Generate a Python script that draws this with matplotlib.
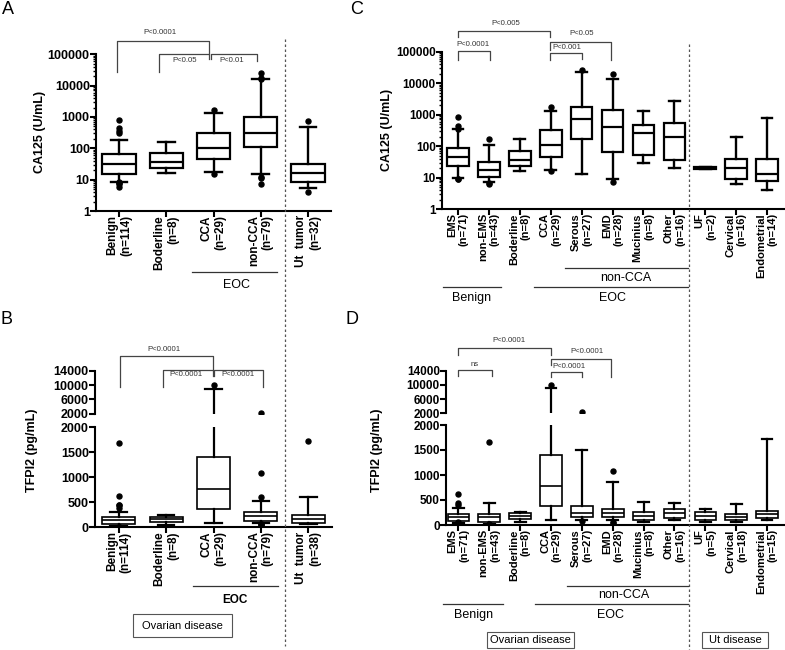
import matplotlib
matplotlib.use('Agg')
import matplotlib.pyplot as plt
import matplotlib.transforms as mtransforms
from matplotlib.lines import Line2D
from matplotlib.patches import Rectangle
from matplotlib.ticker import LogLocator, NullFormatter

plt.rcParams['font.family'] = ['Liberation Sans', 'DejaVu Sans']

# ---------------- data ----------------
# Panel A : CA125 (U/mL)
A_labels = ["Benign\n(n=114)", "Boderline\n(n=8)", "CCA\n(n=29)", "non-CCA\n(n=79)", "Ut  tumor\n(n=32)"]
A_whislo = [8.4, 16, 17.6, 15, 5.3]
A_q1 = [15, 23.6, 44.6, 108, 8.6]
A_med = [31, 37.5, 105, 300, 16.7]
A_q3 = [66, 69, 316, 1030, 31]
A_whishi = [185, 163, 1380, 15800, 490]
A_fliers = [[800, 436, 365, 300, 8.2, 7.8, 7.2, 6.0], [], [1670, 15], [24700, 17000, 16000, 12.5, 11, 7.1], [760, 4]]

# Panel B : TFPI2 (pg/mL)
B_labels = ["Benign\n(n=114)", "Boderline\n(n=8)", "CCA\n(n=29)", "non-CCA\n(n=79)", "Ut  tumor\n(n=38)"]
B_whislo = [25, 53, 93, 90, 70]
B_q1 = [66, 100, 360, 126, 80]
B_med = [146, 160, 766, 226, 160]
B_q3 = [200, 200, 1400, 300, 246]
B_whishi = [313, 253, 9000, 533, 600]
B_fliers = [[1680, 626, 446, 440, 380, 15, 10, 5], [], [10000], [2300, 1080, 613, 75, 65, 55], [1733]]

# Panel C : CA125 (U/mL), subgroups
C_labels = ["EMS\n(n=71)", "non-EMS\n(n=43)", "Boderline\n(n=8)", "CCA\n(n=29)", "Serous\n(n=27)", "EMD\n(n=28)",
            "Mucinius\n(n=8)", "Other\n(n=16)", "UF\n(n=2)", "Cervical\n(n=16)", "Endometrial\n(n=14)"]
C_whislo = [9.4, 7, 16.5, 17.4, 12.9, 9, 28, 20, 19, 6.2, 4]
C_q1 = [24, 10.6, 24, 45, 163, 65, 51, 36, 19, 9.2, 7.8]
C_med = [45, 18, 36, 105, 707, 415, 252, 198, 20, 19.6, 13]
C_q3 = [89, 32, 71, 322, 1700, 1400, 480, 527, 21, 38, 38]
C_whishi = [340, 108, 172, 1330, 23000, 13200, 1330, 2640, 21, 190, 760]
C_fliers = [[815, 435, 360, 9.2, 9.0], [172, 6.5, 6.2], [], [1780, 15.7], [26000], [19000, 7], [], [], [], [], []]

# Panel D : TFPI2 (pg/mL), subgroups
D_labels = ["EMS\n(n=71)", "non-EMS\n(n=43)", "Boderline\n(n=8)", "CCA\n(n=29)", "Serous\n(n=27)", "EMD\n(n=28)",
            "Mucinius\n(n=8)", "Other\n(n=16)", "UF\n(n=5)", "Cervical\n(n=18)", "Endometrial\n(n=15)"]
D_whislo = [40, 30, 66, 100, 100, 100, 60, 100, 67, 67, 100]
D_q1 = [87, 67, 113, 387, 167, 153, 100, 147, 100, 100, 133]
D_med = [153, 153, 180, 780, 233, 233, 180, 233, 180, 153, 213]
D_q3 = [227, 213, 233, 1400, 380, 313, 267, 313, 253, 220, 280]
D_whishi = [333, 433, 253, 9200, 1500, 867, 467, 447, 313, 413, 1720]
D_fliers = [[620, 447, 400, 60, 50, 30], [1653, 20, 10, 5], [], [10000], [2300, 80], [1080, 67, 50], [], [], [], [], []]

# tick labels
log_ticks = [1, 10, 100, 1000, 10000, 100000]
log_ticklabels = ["1", "10", "100", "1000", "10000", "100000"]
lo_ticks = [0, 500, 1000, 1500, 2000]
lo_ticklabels = ["0", "500", "1000", "1500", "2000"]
hi_ticks = [2000, 6000, 10000, 14000]
hi_ticklabels = ["2000", "6000", "10000", "14000"]
break_value = 2000

# ---------------- figure ----------------
W, H = 785, 650
fig = plt.figure(figsize=(W / 100, H / 100), dpi=100)


def fx(p):
    return p / W


def fy(p):
    return 1 - p / H


def rect(x0, x1, ytop, ybot):
    return [fx(x0), fy(ybot), (x1 - x0) / W, (ybot - ytop) / H]


def stats_from(whislo, q1, med, q3, whishi, fliers):
    return [dict(whislo=a, q1=b, med=c, q3=d, whishi=e, fliers=f)
            for a, b, c, d, e, f in zip(whislo, q1, med, q3, whishi, fliers)]


def upper_part(stats, cut):
    """Keep only the groups (and fliers) that reach above the axis break."""
    pos, out = [], []
    for i, s in enumerate(stats, start=1):
        fl = [v for v in s['fliers'] if v >= cut]
        if s['whishi'] > cut or fl:
            d = dict(s)
            d['fliers'] = fl
            pos.append(i)
            out.append(d)
    return out, pos


def draw_boxes(ax, stats, positions=None, boxlw=1.6, wlw=1.7):
    if positions is None:
        positions = list(range(1, len(stats) + 1))
    ax.bxp(stats, positions=positions, widths=0.7, capwidths=0.35, patch_artist=True, manage_ticks=False,
           boxprops=dict(facecolor='white', edgecolor='black', linewidth=boxlw),
           medianprops=dict(color='black', linewidth=boxlw),
           whiskerprops=dict(color='black', linewidth=wlw),
           capprops=dict(color='black', linewidth=wlw),
           flierprops=dict(marker='o', markerfacecolor='black', markeredgecolor='black', markersize=3.6))


def style(ax, bottom=True):
    ax.set_facecolor('none')
    for s in ['top', 'right']:
        ax.spines[s].set_visible(False)
    ax.spines['left'].set_linewidth(1.5)
    ax.spines['bottom'].set_linewidth(1.5)
    if not bottom:
        ax.spines['bottom'].set_visible(False)
        ax.tick_params(axis='x', which='both', bottom=False, labelbottom=False)
    ax.tick_params(axis='both', which='major', direction='out', length=4, width=1.5, pad=0.5)
    ax.tick_params(axis='y', which='minor', direction='out', length=2, width=1)


def xlabels(ax, labels, fs):
    ax.set_xticks(range(1, len(labels) + 1))
    ax.set_xticklabels(labels, rotation=90, fontweight='bold', fontsize=fs, multialignment='right')
    ax.tick_params(axis='x', pad=-1)


def bracket(ax, x1, x2, ytop, yl, yr, text, tx, ty):
    tr = mtransforms.blended_transform_factory(ax.transData, ax.transAxes)
    ax.add_line(Line2D([x1, x1, x2, x2], [yl, ytop, ytop, yr], transform=tr, color='#444444',
                       lw=0.9, clip_on=False))
    ax.text(tx, ty, text, transform=tr, ha='center', va='center', fontsize=5.6, color='#333333', clip_on=False)


def fline(x0, x1, y0, y1, **kw):
    fig.add_artist(Line2D([fx(x0), fx(x1)], [fy(y0), fy(y1)], transform=fig.transFigure, **kw))


def ftext(x, y, s, **kw):
    fig.text(fx(x), fy(y), s, ha='center', va='center', **kw)


# ---- Panel A ----
axA = fig.add_axes(rect(96, 331, 54.3, 211))
draw_boxes(axA, stats_from(A_whislo, A_q1, A_med, A_q3, A_whishi, A_fliers))
axA.set_yscale('log')
axA.set_ylim(1, 100000)
axA.set_xlim(0.513, 5.487)
style(axA)
axA.yaxis.set_minor_locator(LogLocator(base=10, subs=range(2, 10), numticks=20))
axA.yaxis.set_minor_formatter(NullFormatter())
axA.set_yticks(log_ticks, log_ticklabels, fontweight='bold', fontsize=9)
xlabels(axA, A_labels, 8.5)
bracket(axA, 0.958, 2.905, 1.087, 0.889, 1.002, "P<0.0001", 1.868, 1.138)
bracket(axA, 1.853, 2.91, 1.002, 0.889, 0.968, "P<0.05", 2.397, 0.962)
bracket(axA, 2.94, 3.93, 1.002, 0.968, 0.959, "P<0.01", 3.39, 0.962)

# ---- Panel C ----
axC = fig.add_axes(rect(442, 785, 51.7, 209))
draw_boxes(axC, stats_from(C_whislo, C_q1, C_med, C_q3, C_whishi, C_fliers))
axC.set_yscale('log')
axC.set_ylim(1, 100000)
axC.set_xlim(0.48, 11.58)
style(axC)
axC.yaxis.set_minor_locator(LogLocator(base=10, subs=range(2, 10), numticks=20))
axC.yaxis.set_minor_formatter(NullFormatter())
axC.set_yticks(log_ticks, log_ticklabels, fontweight='bold', fontsize=8.5)
xlabels(axC, C_labels, 8)
bracket(axC, 1.0, 3.98, 1.134, 1.093, 1.093, "P<0.005", 2.54, 1.182)
bracket(axC, 0.99, 2.04, 1.006, 0.947, 0.947, "P<0.0001", 1.47, 1.043)
bracket(axC, 3.98, 5.95, 1.064, 1.010, 0.947, "P<0.05", 4.99, 1.113)
bracket(axC, 3.98, 5.01, 0.990, 0.947, 0.951, "P<0.001", 4.53, 1.024)

# ---- Panel B (broken axis) ----
axBlo = fig.add_axes(rect(95, 332, 427.3, 527.3))
axBhi = fig.add_axes(rect(95, 332, 370.7, 413.7))
statsB = stats_from(B_whislo, B_q1, B_med, B_q3, B_whishi, B_fliers)
draw_boxes(axBlo, statsB, boxlw=1.2, wlw=1.6)
hiB, hiB_pos = upper_part(statsB, break_value)
draw_boxes(axBhi, hiB, hiB_pos, boxlw=1.2, wlw=1.6)
for ax in (axBlo, axBhi):
    ax.set_xlim(0.5, 5.5)
axBlo.set_ylim(0, break_value)
axBhi.set_ylim(break_value, 14000)
style(axBlo)
style(axBhi, bottom=False)
axBlo.set_yticks(lo_ticks, lo_ticklabels, fontweight='bold', fontsize=9)
axBhi.set_yticks(hi_ticks, hi_ticklabels, fontweight='bold', fontsize=9)
xlabels(axBlo, B_labels, 8.5)
bracket(axBhi, 1.03, 2.99, 1.349, 0.628, 1.016, "P<0.0001", 1.96, 1.498)
bracket(axBhi, 1.93, 2.99, 1.016, 0.628, 0.884, "P<0.0001", 2.41, 0.916)
bracket(axBhi, 3.02, 4.05, 1.016, 0.884, 0.628, "P<0.0001", 3.51, 0.916)

# ---- Panel D (broken axis) ----
axDlo = fig.add_axes(rect(446, 785, 425, 525))
axDhi = fig.add_axes(rect(446, 785, 370.7, 413.3))
statsD = stats_from(D_whislo, D_q1, D_med, D_q3, D_whishi, D_fliers)
draw_boxes(axDlo, statsD, boxlw=1.2, wlw=1.6)
hiD, hiD_pos = upper_part(statsD, break_value)
draw_boxes(axDhi, hiD, hiD_pos, boxlw=1.2, wlw=1.6)
for ax in (axDlo, axDhi):
    ax.set_xlim(0.6, 11.58)
axDlo.set_ylim(0, break_value)
axDhi.set_ylim(break_value, 14000)
style(axDlo)
style(axDhi, bottom=False)
axDlo.set_yticks(lo_ticks, lo_ticklabels, fontweight='bold', fontsize=8.5)
axDhi.set_yticks(hi_ticks, hi_ticklabels, fontweight='bold', fontsize=8.5)
xlabels(axDlo, D_labels, 8)
bracket(axDhi, 1.0, 3.996, 1.526, 1.369, 1.369, "P<0.0001", 2.64, 1.72)
bracket(axDhi, 1.0, 2.08, 1.016, 0.876, 0.876, "ns", 1.52, 1.157)
bracket(axDhi, 4.0, 5.94, 1.268, 1.134, 0.845, "P<0.0001", 5.15, 1.446)
bracket(axDhi, 4.0, 5.01, 0.977, 0.845, 0.845, "P<0.0001", 4.57, 1.110)

# ---- y labels and panel letters ----
ftext(40, 131.5, "CA125 (U/mL)", rotation=90, fontweight='bold', fontsize=9)
ftext(387, 130, "CA125 (U/mL)", rotation=90, fontweight='bold', fontsize=9)
ftext(32, 450, "TFPI2 (pg/mL)", rotation=90, fontweight='bold', fontsize=9)
ftext(377, 450, "TFPI2 (pg/mL)", rotation=90, fontweight='bold', fontsize=9)
ftext(8, 10, "A", fontsize=13)
ftext(357, 10, "C", fontsize=13)
ftext(6, 320, "B", fontsize=13)
ftext(352, 320, "D", fontsize=13)

# ---- dashed separators ----
fline(285, 285, 39, 646, color='#555555', lw=0.9, ls=(0, (2, 2)))
fline(689, 689, 44, 650, color='#555555', lw=0.9, ls=(0, (2, 2)))

# ---- group annotations ----
gcol = '#333333'
# A
fline(192, 277, 271.7, 271.7, color=gcol, lw=0.9)
ftext(237, 285, "EOC", fontsize=9)
# B
fline(193, 278, 586, 586, color=gcol, lw=0.9)
ftext(235, 600, "EOC", fontsize=8.5, fontweight='bold')
fig.add_artist(Rectangle((fx(133), fy(637)), (232 - 133) / W, 23 / H, transform=fig.transFigure,
                         fill=False, edgecolor='#555555', lw=0.8))
ftext(182.5, 626, "Ovarian disease", fontsize=8)
# C
fline(565, 687.7, 268.3, 268.3, color=gcol, lw=0.9)
ftext(626, 278, "non-CCA", fontsize=9)
fline(534, 687.7, 287.3, 287.3, color=gcol, lw=0.9)
ftext(612.7, 298.3, "EOC", fontsize=9)
fline(442.7, 501, 287.3, 287.3, color=gcol, lw=0.9)
ftext(471.7, 298.3, "Benign", fontsize=9)
# D
fline(566.7, 688.3, 585.7, 585.7, color=gcol, lw=0.9)
ftext(623.3, 595, "non-CCA", fontsize=9)
fline(535, 688.3, 604.3, 604.3, color=gcol, lw=0.9)
ftext(610, 615, "EOC", fontsize=9)
fline(443.3, 502.7, 604.3, 604.3, color=gcol, lw=0.9)
ftext(473.3, 615, "Benign", fontsize=9)
fig.add_artist(Rectangle((fx(486.7), fy(648.3)), (574.3 - 486.7) / W, 16.6 / H, transform=fig.transFigure,
                         fill=False, edgecolor='#555555', lw=0.8))
ftext(530.5, 640, "Ovarian disease", fontsize=8)
fig.add_artist(Rectangle((fx(701.7), fy(648.3)), (768.3 - 701.7) / W, 16.6 / H, transform=fig.transFigure,
                         fill=False, edgecolor='#555555', lw=0.8))
ftext(735, 640, "Ut disease", fontsize=8)

fig.savefig("out.png", dpi=100)
